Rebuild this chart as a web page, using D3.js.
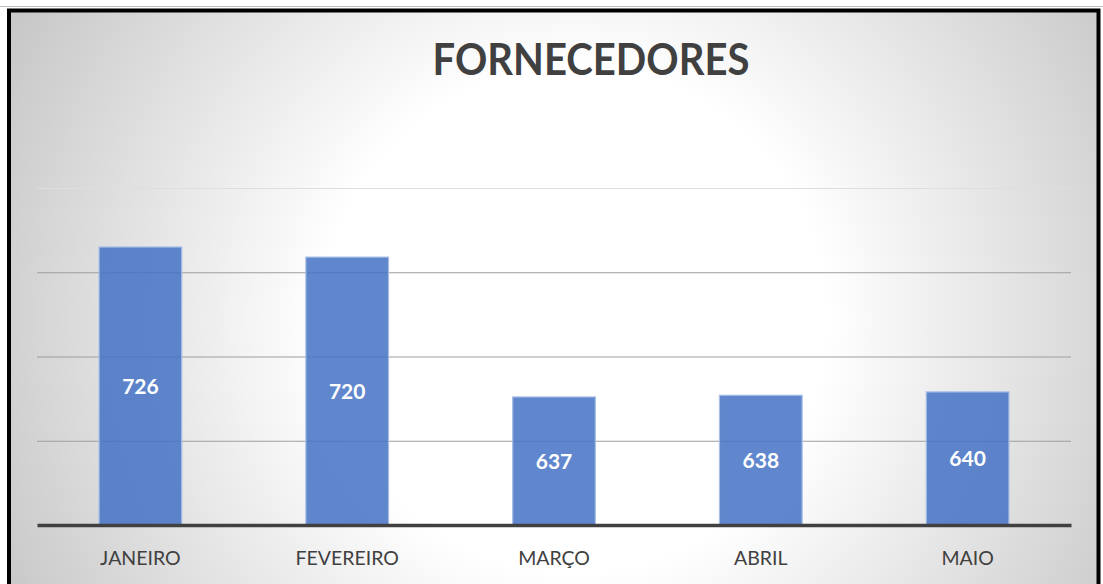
<!DOCTYPE html>
<html><head><meta charset="utf-8">
<script src="https://cdn.jsdelivr.net/npm/d3@7"></script>
<style>html,body{margin:0;padding:0;background:#fff;}svg{display:block;}</style>
</head><body>
<script>
const categories = ["JANEIRO","FEVEREIRO","MARÇO","ABRIL","MAIO"];
const values = [726, 720, 637, 638, 640];
const gridTicks = [611, 661, 711, 761];
const yDomain = [561, 761];
const title = "FORNECEDORES";

const W = 1103, H = 584;
const svg = d3.select("body").append("svg").attr("width", W).attr("height", H);
const defs = svg.append("defs");
const rg = defs.append("radialGradient").attr("id","bg")
  .attr("gradientUnits","userSpaceOnUse").attr("cx",575).attr("cy",320).attr("r",660);
rg.append("stop").attr("offset","0%").attr("stop-color","#ffffff");
rg.append("stop").attr("offset","38%").attr("stop-color","#ffffff");
rg.append("stop").attr("offset","100%").attr("stop-color","#c4c4c4");

svg.append("rect").attr("x",0).attr("y",0).attr("width",W).attr("height",H).attr("fill","#fff");
svg.append("line").attr("x1",0).attr("x2",W).attr("y1",6.5).attr("y2",6.5).attr("stroke","#bdbdbd").attr("stroke-width",1);
svg.append("rect").attr("x",9).attr("y",10.5).attr("width",1089.5).attr("height",H+10)
  .attr("fill","url(#bg)").attr("stroke","#000").attr("stroke-width",4);

const x0 = 37, x1 = 1071, yBase = 525, yTop = 188;
const x = d3.scaleBand().domain(categories).range([x0, x1]).paddingInner(0.6).paddingOuter(0.3);
const y = d3.scaleLinear().domain(yDomain).range([yBase, yTop]);

// gridlines
const gy = d3.axisLeft(y).tickValues(gridTicks).tickSize(-(x1 - x0)).tickFormat("");
const gg = svg.append("g").attr("transform",`translate(${x0},0)`).call(gy);
gg.select(".domain").remove();
gg.selectAll(".tick line").attr("stroke", (d,i) => i === gridTicks.length-1 ? "#dedede" : "#9e9e9e").attr("stroke-width",1.2);

// bars
svg.append("g").selectAll("rect").data(values).join("rect")
  .attr("x",(d,i)=>x(categories[i]))
  .attr("y",d=>y(d))
  .attr("width",x.bandwidth())
  .attr("height",d=>yBase - y(d))
  .attr("fill","#4472C4").attr("fill-opacity",0.85)
  .attr("stroke","#a9bfe6").attr("stroke-width",1.2);

// labels in bars
svg.append("g").selectAll("text").data(values).join("text")
  .attr("x",(d,i)=>x(categories[i]) + x.bandwidth()/2)
  .attr("y",d=>(y(d)+yBase)/2)
  .attr("dy","0.36em")
  .attr("text-anchor","middle")
  .attr("font-family","Lato, 'Open Sans', sans-serif")
  .attr("font-weight","bold").attr("font-size",21).attr("fill","#fff")
  .text(d=>d);

// x axis
const xa = d3.axisBottom(x).tickSize(0).tickPadding(26);
const xg = svg.append("g").attr("transform",`translate(0,${yBase})`).call(xa);
xg.select(".domain").attr("stroke","#404040").attr("stroke-width",3.5);
xg.selectAll(".tick text").attr("font-family","Lato, 'Open Sans', sans-serif")
  .attr("font-size",19.5).attr("fill","#404040");

// title
svg.append("text").attr("x",591).attr("y",75).attr("text-anchor","middle")
  .attr("font-family","Lato, 'Open Sans', sans-serif").attr("font-weight","bold")
  .attr("font-size",44).attr("fill","#404040")
  .attr("textLength",317).attr("lengthAdjust","spacingAndGlyphs")
  .text(title);
</script>
</body></html>
